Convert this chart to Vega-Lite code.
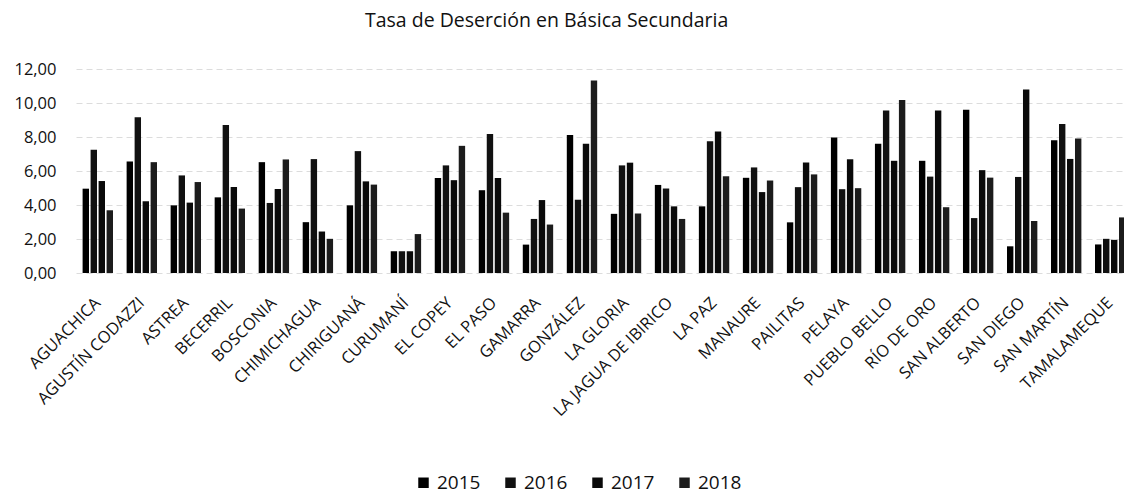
{
  "$schema": "https://vega.github.io/schema/vega-lite/v6.json",
  "autosize": {"type": "none"},
  "padding": {"left": 76, "top": 69, "right": 0, "bottom": 224},
  "width": 1056,
  "height": 204,
  "background": "white",
  "config": {
    "locale": {"number": {"decimal": ",", "thousands": ".", "grouping": [3], "currency": ["$", ""]}},
    "font": "Open Sans",
    "view": {"stroke": null}
  },
  "title": {"text": "Tasa de Deserción en Básica Secundaria", "fontSize": 19.5, "fontWeight": "normal", "font": "Open Sans", "color": "#111", "anchor": "start", "dx": 351, "offset": 30},
  "data": {"values": [
    {"m":"AGUACHICA","y":"2015","v":4.96},{"m":"AGUACHICA","y":"2016","v":7.25},{"m":"AGUACHICA","y":"2017","v":5.41},{"m":"AGUACHICA","y":"2018","v":3.69},
    {"m":"AGUSTÍN CODAZZI","y":"2015","v":6.56},{"m":"AGUSTÍN CODAZZI","y":"2016","v":9.16},{"m":"AGUSTÍN CODAZZI","y":"2017","v":4.22},{"m":"AGUSTÍN CODAZZI","y":"2018","v":6.52},
    {"m":"ASTREA","y":"2015","v":3.98},{"m":"ASTREA","y":"2016","v":5.74},{"m":"ASTREA","y":"2017","v":4.14},{"m":"ASTREA","y":"2018","v":5.35},
    {"m":"BECERRIL","y":"2015","v":4.45},{"m":"BECERRIL","y":"2016","v":8.71},{"m":"BECERRIL","y":"2017","v":5.06},{"m":"BECERRIL","y":"2018","v":3.79},
    {"m":"BOSCONIA","y":"2015","v":6.52},{"m":"BOSCONIA","y":"2016","v":4.12},{"m":"BOSCONIA","y":"2017","v":4.94},{"m":"BOSCONIA","y":"2018","v":6.68},
    {"m":"CHIMICHAGUA","y":"2015","v":2.99},{"m":"CHIMICHAGUA","y":"2016","v":6.70},{"m":"CHIMICHAGUA","y":"2017","v":2.44},{"m":"CHIMICHAGUA","y":"2018","v":2.01},
    {"m":"CHIRIGUANÁ","y":"2015","v":3.98},{"m":"CHIRIGUANÁ","y":"2016","v":7.17},{"m":"CHIRIGUANÁ","y":"2017","v":5.39},{"m":"CHIRIGUANÁ","y":"2018","v":5.20},
    {"m":"CURUMANÍ","y":"2015","v":1.28},{"m":"CURUMANÍ","y":"2016","v":1.28},{"m":"CURUMANÍ","y":"2017","v":1.28},{"m":"CURUMANÍ","y":"2018","v":2.29},
    {"m":"EL COPEY","y":"2015","v":5.59},{"m":"EL COPEY","y":"2016","v":6.33},{"m":"EL COPEY","y":"2017","v":5.46},{"m":"EL COPEY","y":"2018","v":7.48},
    {"m":"EL PASO","y":"2015","v":4.87},{"m":"EL PASO","y":"2016","v":8.17},{"m":"EL PASO","y":"2017","v":5.59},{"m":"EL PASO","y":"2018","v":3.55},
    {"m":"GAMARRA","y":"2015","v":1.67},{"m":"GAMARRA","y":"2016","v":3.18},{"m":"GAMARRA","y":"2017","v":4.29},{"m":"GAMARRA","y":"2018","v":2.85},
    {"m":"GONZÁLEZ","y":"2015","v":8.12},{"m":"GONZÁLEZ","y":"2016","v":4.31},{"m":"GONZÁLEZ","y":"2017","v":7.61},{"m":"GONZÁLEZ","y":"2018","v":11.32},
    {"m":"LA GLORIA","y":"2015","v":3.48},{"m":"LA GLORIA","y":"2016","v":6.33},{"m":"LA GLORIA","y":"2017","v":6.49},{"m":"LA GLORIA","y":"2018","v":3.50},
    {"m":"LA JAGUA DE IBIRICO","y":"2015","v":5.18},{"m":"LA JAGUA DE IBIRICO","y":"2016","v":4.97},{"m":"LA JAGUA DE IBIRICO","y":"2017","v":3.92},{"m":"LA JAGUA DE IBIRICO","y":"2018","v":3.18},
    {"m":"LA PAZ","y":"2015","v":3.92},{"m":"LA PAZ","y":"2016","v":7.75},{"m":"LA PAZ","y":"2017","v":8.33},{"m":"LA PAZ","y":"2018","v":5.69},
    {"m":"MANAURE","y":"2015","v":5.60},{"m":"MANAURE","y":"2016","v":6.21},{"m":"MANAURE","y":"2017","v":4.76},{"m":"MANAURE","y":"2018","v":5.44},
    {"m":"PAILITAS","y":"2015","v":2.98},{"m":"PAILITAS","y":"2016","v":5.05},{"m":"PAILITAS","y":"2017","v":6.50},{"m":"PAILITAS","y":"2018","v":5.80},
    {"m":"PELAYA","y":"2015","v":7.97},{"m":"PELAYA","y":"2016","v":4.93},{"m":"PELAYA","y":"2017","v":6.69},{"m":"PELAYA","y":"2018","v":4.99},
    {"m":"PUEBLO BELLO","y":"2015","v":7.60},{"m":"PUEBLO BELLO","y":"2016","v":9.56},{"m":"PUEBLO BELLO","y":"2017","v":6.60},{"m":"PUEBLO BELLO","y":"2018","v":10.17},
    {"m":"RÍO DE ORO","y":"2015","v":6.60},{"m":"RÍO DE ORO","y":"2016","v":5.67},{"m":"RÍO DE ORO","y":"2017","v":9.56},{"m":"RÍO DE ORO","y":"2018","v":3.87},
    {"m":"SAN ALBERTO","y":"2015","v":9.61},{"m":"SAN ALBERTO","y":"2016","v":3.23},{"m":"SAN ALBERTO","y":"2017","v":6.05},{"m":"SAN ALBERTO","y":"2018","v":5.61},
    {"m":"SAN DIEGO","y":"2015","v":1.57},{"m":"SAN DIEGO","y":"2016","v":5.65},{"m":"SAN DIEGO","y":"2017","v":10.79},{"m":"SAN DIEGO","y":"2018","v":3.06},
    {"m":"SAN MARTÍN","y":"2015","v":7.81},{"m":"SAN MARTÍN","y":"2016","v":8.76},{"m":"SAN MARTÍN","y":"2017","v":6.71},{"m":"SAN MARTÍN","y":"2018","v":7.91},
    {"m":"TAMALAMEQUE","y":"2015","v":1.68},{"m":"TAMALAMEQUE","y":"2016","v":2.01},{"m":"TAMALAMEQUE","y":"2017","v":1.95},{"m":"TAMALAMEQUE","y":"2018","v":3.27}
  ]},
  "mark": {"type": "bar"},
  "encoding": {
    "x": {"field": "m", "type": "nominal", "sort": null, "title": null,
      "scale": {"paddingInner": 0.31, "paddingOuter": 0.15},
      "axis": {"labelAngle": -45, "labelAlign": "right", "labelBaseline": "middle", "labelFontSize": 16.5, "labelColor": "#111", "labelPadding": 27, "ticks": false, "domain": false, "labelFont": "Open Sans"}},
    "xOffset": {"field": "y", "type": "nominal", "scale": {"paddingInner": 0.2}},
    "y": {"field": "v", "type": "quantitative", "title": null,
      "scale": {"domain": [0, 12]},
      "axis": {"values": [0, 2, 4, 6, 8, 10, 12], "format": ".2f", "labelFontSize": 16.5, "labelColor": "#111", "labelPadding": 20, "ticks": false, "domain": false, "gridColor": "#dcdcdc", "gridDash": [6, 4], "labelFont": "Open Sans"}},
    "color": {"field": "y", "type": "nominal", "title": null,
      "scale": {"domain": ["2015", "2016", "2017", "2018"], "range": ["#000000", "#111111", "#0a0a0a", "#1c1c1c"]},
      "legend": {"orient": "none", "legendX": 338, "legendY": 404, "direction": "horizontal", "symbolType": "square", "symbolSize": 110, "labelFontSize": 19, "labelColor": "#111", "columnPadding": 20, "labelOffset": 4, "labelFont": "Open Sans"}}
  }
}
